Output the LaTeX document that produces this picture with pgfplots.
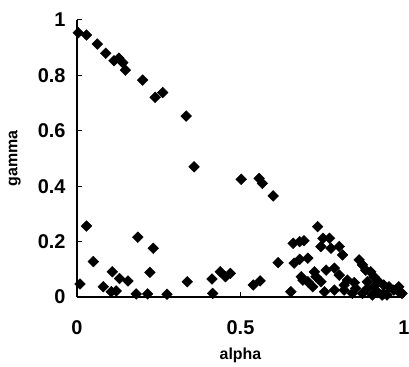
\documentclass[border=0pt]{standalone}
\usepackage{fontspec}
\setmainfont{Liberation Sans}
\usepackage{pgfplots}
\pgfplotsset{compat=1.18}
\begin{document}
\begin{tikzpicture}
\begin{axis}[
  name=ax, at={(0,0)}, anchor=origin,
  scale only axis, width=327bp, height=277bp,
  xmin=0, xmax=1, ymin=0, ymax=1,
  axis x line*=bottom, axis y line*=left,
  axis line style={line width=1.2bp, black},
  tick align=inside, major tick length=5bp,
  tick style={line width=1bp, black},
  xtick={0,0.5,1}, ytick={0,0.2,0.4,0.6,0.8,1},
  /pgf/number format/assume math mode=true,
  ticklabel style={font=\fontsize{20}{22}\selectfont\bfseries},
  xticklabel style={yshift=-20bp},
  yticklabel style={xshift=-8bp},
  xlabel={alpha}, ylabel={gamma},
  label style={font=\fontsize{16}{18}\selectfont\bfseries},
  xlabel style={at={(axis description cs:0.5,-0.212)}, anchor=center},
  ylabel style={at={(axis description cs:-0.19,0.5)}, anchor=center},
  clip=false,
]
\addplot[only marks, mark=square*, mark size=3.8bp, mark options={rotate=45, fill=black, draw=black}] coordinates {
(0.004,0.954) (0.029,0.946) (0.062,0.913) (0.088,0.880) (0.113,0.853)
(0.128,0.862) (0.140,0.846) (0.148,0.819) (0.201,0.783) (0.239,0.721)
(0.262,0.738) (0.334,0.653) (0.358,0.470)
(0.502,0.425) (0.557,0.428) (0.567,0.410) (0.600,0.365)
(0.009,0.047) (0.029,0.256) (0.050,0.128) (0.080,0.037) (0.108,0.091)
(0.105,0.019) (0.120,0.022) (0.130,0.067) (0.156,0.058) (0.181,0.011)
(0.186,0.216) (0.216,0.011) (0.223,0.089) (0.233,0.176) (0.275,0.010)
(0.337,0.055) (0.413,0.065) (0.415,0.013) (0.438,0.091) (0.454,0.073)
(0.469,0.085) (0.539,0.043) (0.560,0.058)
(0.615,0.124) (0.654,0.019) (0.661,0.194) (0.681,0.200) (0.694,0.203)
(0.736,0.254) (0.752,0.212) (0.772,0.212) (0.664,0.122) (0.681,0.136)
(0.706,0.140) (0.746,0.182) (0.777,0.176) (0.802,0.182) (0.812,0.152)
(0.686,0.073) (0.706,0.055) (0.721,0.037) (0.731,0.073) (0.746,0.055)
(0.762,0.097) (0.787,0.104) (0.757,0.019) (0.787,0.025) (0.817,0.025)
(0.827,0.061) (0.848,0.052) (0.863,0.134) (0.873,0.116) (0.883,0.097)
(0.898,0.091) (0.908,0.073) (0.923,0.055) (0.938,0.043) (0.954,0.037)
(0.969,0.025) (0.984,0.019) (0.873,0.013) (0.888,0.031) (0.903,0.007)
(0.918,0.019) (0.933,0.007) (0.948,0.007) (0.842,0.013) (0.852,0.031)
(0.888,0.055) (0.908,0.037) (0.938,0.013) (0.802,0.079) (0.817,0.043)
(0.984,0.037) (0.994,0.013) (0.726,0.091) (0.691,0.061)
};
\end{axis}
\pgfresetboundingbox
\path[use as bounding box] (-77bp,-70bp) rectangle (332bp,297bp);
\end{tikzpicture}
\end{document}
